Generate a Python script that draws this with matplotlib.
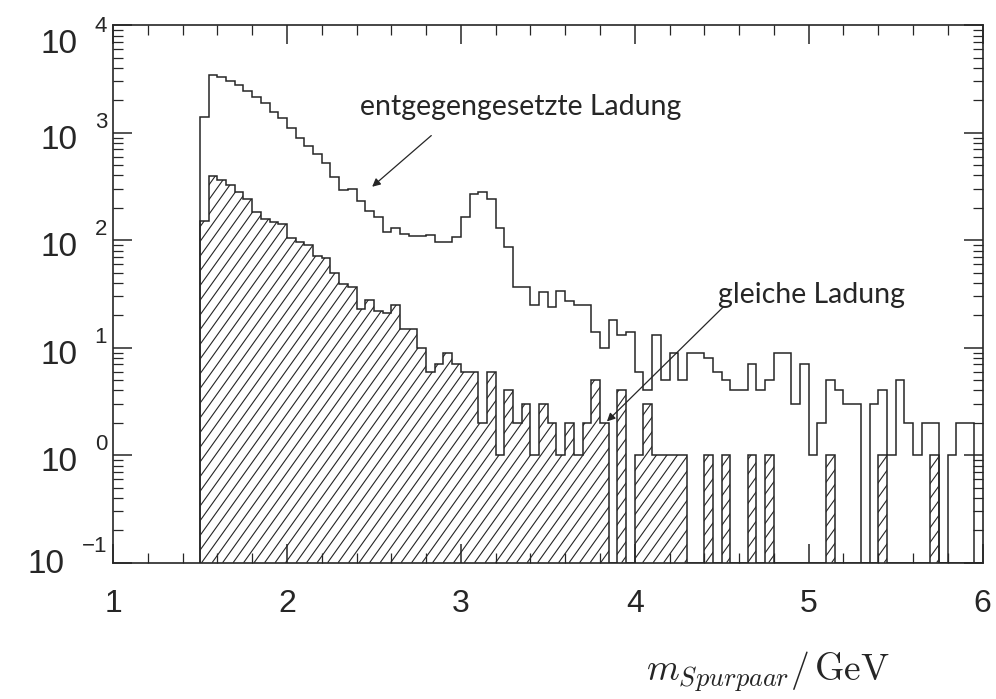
"""Track-pair invariant mass spectrum: opposite vs. same charge."""

import matplotlib

matplotlib.use("Agg")
import matplotlib.pyplot as plt
import matplotlib.transforms as mtransforms
import numpy as np
from matplotlib.collections import LineCollection
from matplotlib.ticker import FixedLocator, LogLocator, MultipleLocator, NullFormatter

BIN_LO = 1.5
BIN_WIDTH = 0.05

# entgegengesetzte Ladung, entries per 50 MeV bin from 1.50 to 6.00 GeV
opposite = [
    1400, 3450, 3300, 3000, 2800, 2430, 2160, 1870, 1570, 1370,
    1110, 900, 750, 630, 527, 383, 290, 299, 233, 188,
    165, 118, 129, 114, 109, 109, 112, 97, 97, 108,
    166, 267, 279, 240, 130, 87, 37, 37, 25, 33,
    24, 34, 27, 25, 25, 14, 10, 18, 13, 14,
    6, 4, 13, 5, 9, 5, 9, 9, 8, 6,
    5, 4, 4, 7, 4, 5, 9, 9, 3, 7,
    1, 2, 5, 4, 3, 3, 0, 3, 4, 1,
    5, 2, 1, 2, 2, 0, 1, 2, 2, 0,
]

# gleiche Ladung, same binning
same = [
    150, 392, 365, 327, 280, 240, 184, 156, 149, 142,
    105, 96, 90, 71, 69, 50, 39, 37, 23, 28,
    22, 21, 25, 15, 15, 10, 6, 7, 9, 7,
    6, 6, 2, 6, 1, 4, 2, 3, 1, 3,
    2, 1, 2, 1, 2, 5, 2, 0, 4, 0,
    1, 3, 1, 1, 1, 1, 0, 0, 1, 0,
    1, 0, 0, 1, 0, 1, 0, 0, 0, 0,
    0, 0, 1, 0, 0, 0, 0, 0, 1, 0,
    0, 0, 0, 0, 1, 0, 0, 0, 0, 0,
]

decades = [-1, 0, 1, 2, 3, 4]
# the outermost labels sit a little inside their ticks (pixels, + is up)
label_nudge = {4: -12, -1: 6}

Y_MIN, Y_MAX = 0.1, 1e4
INK = "#262626"


def main() -> None:
    plt.rcParams["font.family"] = ["Liberation Sans", "DejaVu Sans"]

    fig = plt.figure(figsize=(9.96, 6.99), dpi=100)
    ax_rect = [0.1135, 0.195, 0.873, 0.769]
    ax = fig.add_axes(ax_rect)

    edges = BIN_LO + BIN_WIDTH * np.arange(len(opposite) + 1)
    opp = np.clip(np.asarray(opposite, float), Y_MIN, None)
    sam = np.clip(np.asarray(same, float), Y_MIN, None)

    ax.set_yscale("log")
    ax.set_xlim(1, 6)
    ax.set_ylim(Y_MIN, Y_MAX)

    # hatched same-charge histogram (steep hatch lines clipped to the step shape)
    clip = ax.stairs(sam, edges, baseline=Y_MIN, fill=True, facecolor="none", edgecolor="none")
    w_px = fig.get_figwidth() * fig.dpi * ax_rect[2]
    h_px = fig.get_figheight() * fig.dpi * ax_rect[3]
    slope = 1.4
    run = (h_px / slope) / w_px
    step = 10.5 / w_px
    segs = [[(x0, 0.0), (x0 + run, 1.0)] for x0 in np.arange(-run, 1.0, step)]
    hatch = LineCollection(segs, transform=ax.transAxes, colors=INK, linewidths=0.8)
    hatch.set_clip_path(clip)
    ax.add_collection(hatch, autolim=False)
    ax.stairs(sam, edges, baseline=Y_MIN, color=INK, linewidth=1.1)

    ax.stairs(opp, edges, baseline=Y_MIN, color=INK, linewidth=1.1)

    # axes, ticks
    for spine in ax.spines.values():
        spine.set_color(INK)
        spine.set_linewidth(1.2)
    ax.xaxis.set_major_locator(MultipleLocator(1))
    ax.xaxis.set_minor_locator(MultipleLocator(0.2))
    ax.yaxis.set_major_locator(FixedLocator([10.0 ** e for e in decades]))
    ax.yaxis.set_minor_locator(LogLocator(base=10, subs=np.arange(2, 10), numticks=20))
    ax.yaxis.set_minor_formatter(NullFormatter())
    ax.yaxis.set_major_formatter(NullFormatter())
    ax.tick_params(which="both", direction="in", top=True, right=True, colors=INK)
    ax.tick_params(which="major", length=14, width=1.1)
    ax.tick_params(which="minor", length=7, width=0.9)
    ax.tick_params(axis="x", which="major", labelsize=23, pad=19, labelcolor=INK)

    # y labels drawn as "10" plus a detached, raised exponent
    renderer = fig.canvas.get_renderer()
    lab_tr = mtransforms.blended_transform_factory(fig.transFigure, ax.transData)
    fig_w = fig.get_figwidth() * fig.dpi
    for e in decades:
        nudge = label_nudge.get(e, 0)
        exp_tr = mtransforms.offset_copy(lab_tr, fig=fig, y=5 + nudge, units="dots")
        ten_tr = mtransforms.offset_copy(lab_tr, fig=fig, y=-16 + nudge, units="dots")
        label = str(e).replace("-", "\u2212")
        t_exp = ax.text(107 / fig_w, 10.0 ** e, label, transform=exp_tr, ha="right",
                        va="baseline", fontsize=16, color=INK, clip_on=False)
        x_left = t_exp.get_window_extent(renderer).x0
        ax.text((x_left - 17) / fig_w, 10.0 ** e, "10", transform=ten_tr, ha="right",
                va="baseline", fontsize=24, color=INK, clip_on=False)

    text_kw = dict(fontsize=20.5, family=["Lato", "DejaVu Sans"], color=INK)
    arrow_kw = dict(arrowstyle="-|>", color=INK, lw=0.9, mutation_scale=12, shrinkA=0, shrinkB=0)
    ax.text(2.42, 1750, "entgegengesetzte Ladung", va="center", ha="left", **text_kw)
    ax.annotate("", xy=(2.49, 314), xytext=(2.83, 940), arrowprops=arrow_kw)
    ax.text(4.48, 31, "gleiche Ladung", va="center", ha="left", **text_kw)
    ax.annotate("", xy=(3.84, 2.06), xytext=(4.51, 24), arrowprops=arrow_kw)

    fig.text(0.771, 1 - 672 / 699, r"$m_{Spurpaar}/\,\mathrm{GeV}$", ha="center", va="center",
             fontsize=27, math_fontfamily="cm", color=INK)

    fig.savefig("out.png", dpi=100)
    plt.close(fig)


if __name__ == "__main__":
    main()
